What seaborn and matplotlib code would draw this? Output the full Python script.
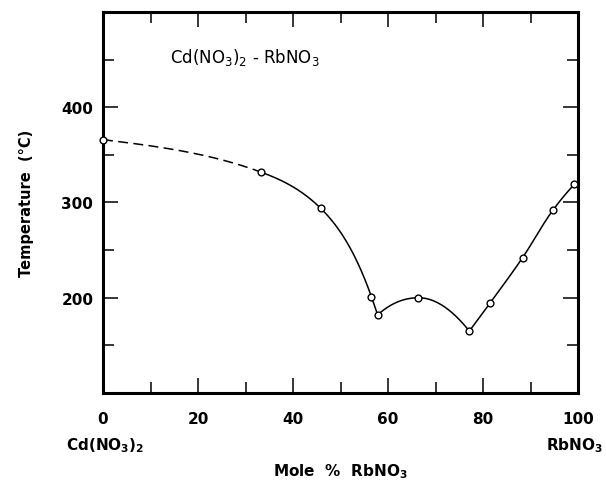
import numpy as np
import pandas as pd
import matplotlib
matplotlib.use("Agg")
import matplotlib.pyplot as plt
import seaborn as sns

# Liquidus measurements for the Cd(NO3)2 - RbNO3 system
mole_pct_rbno3 = [0.0, 33.2, 45.8, 56.5, 57.8, 66.4, 77.1, 81.4, 88.3, 94.7, 99.2]
temperature_c = [366, 332, 294, 201, 182, 200, 165, 194, 242, 292, 319]

# Index ranges (inclusive) of the three liquidus branches
branch_bounds = [(0, 4), (4, 6), (6, 10)]
# Part of the first branch drawn dashed (uncertain region)
dashed_until = 33.2

x_ticks = [0, 20, 40, 60, 80, 100]
x_tick_labels = ["0", "20", "40", "60", "80", "100"]
x_minor = [10, 30, 50, 70, 90]
y_ticks = [200, 300, 400]
y_tick_labels = ["200", "300", "400"]
y_minor = [150, 250, 350, 450]


def hermite(x, y, d, n):
    h = np.diff(x)
    xs = np.linspace(x[0], x[-1], n)
    idx = np.clip(np.searchsorted(x, xs, side="right") - 1, 0, len(x) - 2)
    t = (xs - x[idx]) / h[idx]
    h00 = 2 * t**3 - 3 * t**2 + 1
    h10 = t**3 - 2 * t**2 + t
    h01 = -2 * t**3 + 3 * t**2
    h11 = t**3 - t**2
    ys = (h00 * y[idx] + h10 * h[idx] * d[idx]
          + h01 * y[idx + 1] + h11 * h[idx] * d[idx + 1])
    return xs, ys


def pchip(x, y, n=300):
    """Monotone piecewise cubic Hermite curve through (x, y)."""
    x = np.asarray(x, float)
    y = np.asarray(y, float)
    h = np.diff(x)
    delta = np.diff(y) / h
    m = len(x)
    d = np.zeros(m)
    for k in range(1, m - 1):
        if delta[k - 1] * delta[k] > 0:
            w1 = 2 * h[k] + h[k - 1]
            w2 = h[k] + 2 * h[k - 1]
            d[k] = (w1 + w2) / (w1 / delta[k - 1] + w2 / delta[k])

    def end(h0, h1, d0, d1):
        v = ((2 * h0 + h1) * d0 - h0 * d1) / (h0 + h1)
        if np.sign(v) != np.sign(d0):
            return 0.0
        if np.sign(d0) != np.sign(d1) and abs(v) > 3 * abs(d0):
            return 3 * d0
        return v

    d[0] = end(h[0], h[1], delta[0], delta[1])
    d[-1] = end(h[-1], h[-2], delta[-1], delta[-2])
    return hermite(x, y, d, n)


def natural_spline(x, y, n=300):
    """Natural cubic spline through (x, y)."""
    x = np.asarray(x, float)
    y = np.asarray(y, float)
    h = np.diff(x)
    delta = np.diff(y) / h
    m = len(x)
    A = np.zeros((m, m))
    b = np.zeros(m)
    A[0, 0] = A[-1, -1] = 1.0
    for k in range(1, m - 1):
        A[k, k - 1] = h[k - 1]
        A[k, k] = 2 * (h[k - 1] + h[k])
        A[k, k + 1] = h[k]
        b[k] = 6 * (delta[k] - delta[k - 1])
    M = np.linalg.solve(A, b)
    d = np.zeros(m)
    d[:-1] = delta - h * (2 * M[:-1] + M[1:]) / 6
    d[-1] = delta[-1] + h[-1] * (M[-2] + 2 * M[-1]) / 6
    return hermite(x, y, d, n)


sns.set_style("white")
plt.rcParams["font.family"] = ["DejaVu Sans"]
plt.rcParams["mathtext.default"] = "regular"
plt.rcParams["text.color"] = "black"
plt.rcParams["axes.labelcolor"] = "black"
plt.rcParams["xtick.color"] = "black"
plt.rcParams["ytick.color"] = "black"

fig = plt.figure(figsize=(6.06, 4.89), dpi=100)
ax = fig.add_axes([0.170, 0.1943, 0.784, 0.7791])

pts = pd.DataFrame({"x": mole_pct_rbno3, "T": temperature_c})

line_kw = dict(ax=ax, sort=False, estimator=None, color="black", lw=1.1)
for i0, i1 in branch_bounds:
    seg = pts.iloc[i0:i1 + 1]
    if i0 == 0:
        xs, ys = natural_spline(seg["x"], seg["T"])
        curve = pd.DataFrame({"x": xs, "T": ys})
        dashed = curve[curve["x"] <= dashed_until]
        solid = curve[curve["x"] >= dashed_until]
        sns.lineplot(data=dashed, x="x", y="T", linestyle=(0, (6.5, 3.5)),
                     **line_kw)
        sns.lineplot(data=solid, x="x", y="T", **line_kw)
    else:
        xs, ys = pchip(seg["x"], seg["T"])
        curve = pd.DataFrame({"x": xs, "T": ys})
        sns.lineplot(data=curve, x="x", y="T", **line_kw)

sns.scatterplot(data=pts, x="x", y="T", ax=ax, s=24, marker="o",
                facecolor="white", edgecolor="black", linewidth=1.0,
                zorder=5, clip_on=False)

ax.set_xlim(0, 100)
ax.set_ylim(100, 500)
ax.set_xticks(x_ticks)
ax.set_xticklabels(x_tick_labels)
ax.set_xticks(x_minor, minor=True)
ax.set_yticks(y_ticks)
ax.set_yticklabels(y_tick_labels)
ax.set_yticks(y_minor, minor=True)

ax.tick_params(which="both", direction="in", top=True, right=True,
               bottom=True, left=True, width=1.1, color="black")
ax.tick_params(which="major", length=11)
ax.tick_params(which="minor", length=8)
ax.tick_params(axis="x", which="major", pad=13, labelsize=11)
ax.tick_params(axis="y", which="major", pad=7, labelsize=11)
for lab in ax.get_xticklabels() + ax.get_yticklabels():
    lab.set_fontweight("bold")

for sp in ax.spines.values():
    sp.set_linewidth(2.2)
    sp.set_color("black")

ax.set_xlabel(r"Mole  %  RbNO$_3$", fontsize=11, fontweight="bold")
ax.xaxis.set_label_coords(0.5, -0.178)
ax.set_ylabel("Temperature  (°C)", fontsize=10.5, fontweight="bold")
ax.yaxis.set_label_coords(-0.145, 0.5)

ax.text(14.1, 448, r"Cd(NO$_3$)$_2$ - RbNO$_3$", fontsize=12,
        ha="left", va="baseline")

xt = ax.get_xaxis_transform()
ax.text(0.5, -0.147, r"Cd(NO$_3$)$_2$", transform=xt, fontsize=11,
        fontweight="bold", ha="center", va="baseline")
ax.text(99.2, -0.147, r"RbNO$_3$", transform=xt, fontsize=11,
        fontweight="bold", ha="center", va="baseline")

fig.savefig("out.png", dpi=100, facecolor="white")
